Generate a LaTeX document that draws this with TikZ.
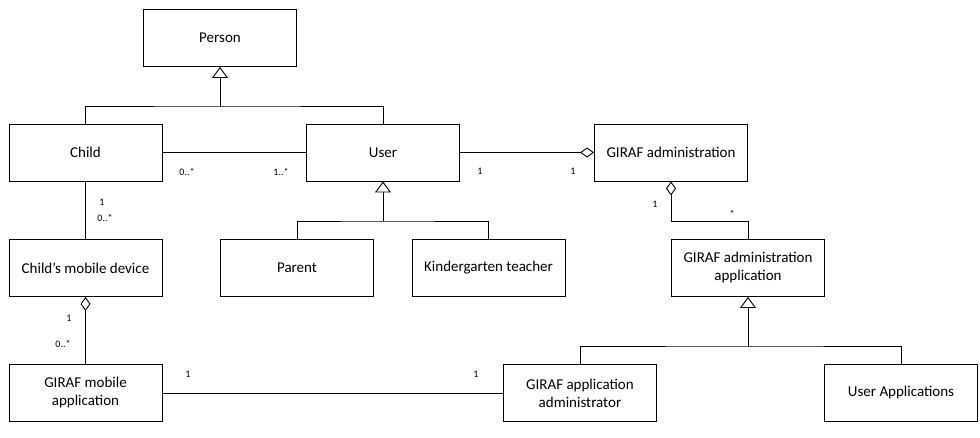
\documentclass[tikz,border=0pt]{standalone}
\usepackage{fontspec}
\setmainfont{Carlito}
\usetikzlibrary{arrows.meta}
\begin{document}
\begin{tikzpicture}[x=1pt,y=-1pt,
  cls/.style={draw,line width=0.9pt,minimum width=153pt,minimum height=57pt,inner sep=2pt,font=\fontsize{15}{18}\selectfont,align=center},
  mult/.style={inner sep=0pt,font=\fontsize{10}{12}\selectfont},
  conn/.style={line width=0.9pt},
  gen/.style={conn,-{Triangle[open,width=16pt,length=11pt]}},
  agg/.style={conn,-{Diamond[open,width=10pt,length=14pt]}}]
\useasboundingbox (0,0) rectangle (980,438);
% classes
\node[cls] (person) at (220,38) {Person};
\node[cls] (child) at (85.5,152.5) {Child};
\node[cls] (user) at (383,152.5) {User};
\node[cls] (gadm) at (671,152.5) {GIRAF administration};
\node[cls] (cmd) at (85.5,268) {Child’s mobile device};
\node[cls] (parent) at (297,268) {Parent};
\node[cls] (kind) at (488.5,268) {Kindergarten teacher};
\node[cls] (gaapp) at (748,268) {GIRAF administration\\application};
\node[cls] (gmob) at (85.5,393) {GIRAF mobile\\application};
\node[cls] (gappadm) at (580,393) {GIRAF application\\administrator};
\node[cls] (uapps) at (901,393) {User Applications};
% junction points
\coordinate (b1) at (220,106);
\coordinate (b2) at (383,221);
\coordinate (b3) at (748,346);
\coordinate (c3) at (671,221);
% generalizations
\draw[conn] (child.north) |- (b1) -| (user.north);
\draw[gen] (b1) -- (person.south);
\draw[conn] (parent.north) |- (b2) -| (kind.north);
\draw[gen] (b2) -- (user.south);
\draw[conn] (gappadm.north) |- (b3) -| (uapps.north);
\draw[gen] (b3) -- (gaapp.south);
% associations
\draw[conn] (child.east) -- (user.west);
\draw[agg] (user.east) -- (gadm.west);
\draw[agg] (gaapp.north) |- (c3) -- (gadm.south);
\draw[conn] (child.south) -- (cmd.north);
\draw[agg] (gmob.north) -- (cmd.south);
\draw[conn] (gmob.east) -- (gappadm.west);
% multiplicities
\node[mult] (m1) at (187,172) {0..*};
\node[mult] (m2) at (281,172) {1..*};
\node[mult] (m3) at (480,171) {1};
\node[mult] (m4) at (573,171) {1};
\node[mult] (m5) at (655,204) {1};
\node[mult] (m6) at (732,214) {*};
\node[mult] (m7) at (102,202) {1};
\node[mult] (m8) at (105,218) {0..*};
\node[mult] (m9) at (69,318) {1};
\node[mult] (m10) at (63,344) {0..*};
\node[mult] (m11) at (188,374) {1};
\node[mult] (m12) at (476,374) {1};
\end{tikzpicture}
\end{document}
